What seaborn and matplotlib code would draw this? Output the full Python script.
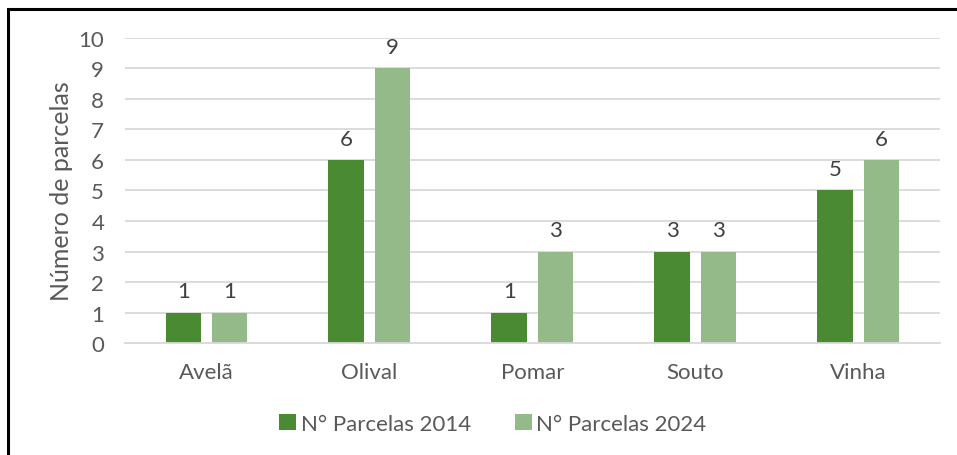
import pandas as pd
import matplotlib.pyplot as plt
import seaborn as sns
from matplotlib.patches import Rectangle

# data
categories = ['Avelã', 'Olival', 'Pomar', 'Souto', 'Vinha']
parcelas_2014 = [1, 6, 1, 3, 5]
parcelas_2024 = [1, 9, 3, 3, 6]
series_names = ['N° Parcelas 2014', 'N° Parcelas 2024']
y_ticks = list(range(0, 11))

df = pd.DataFrame({
    'cultura': categories * 2,
    'serie': [series_names[0]] * len(categories) + [series_names[1]] * len(categories),
    'valor': parcelas_2014 + parcelas_2024,
})

sns.set_theme(style='white')
plt.rcParams['font.family'] = ['Lato', 'DejaVu Sans']

text_grey = '#595959'
grid_grey = '#d9d9d9'
palette = {series_names[0]: '#4a8a32', series_names[1]: '#94ba8a'}

fig = plt.figure(figsize=(9.57, 4.56), dpi=100)
ax = fig.add_axes([0.1306, 0.2456, 0.8516, 0.6689])

sns.barplot(data=df, x='cultura', y='valor', hue='serie', palette=palette,
            width=0.565, gap=0.22, saturation=1, linewidth=0, ax=ax, legend=True)

ax.set_ylim(0, 10)
ax.set_yticks(y_ticks)
ax.set_xlim(-0.5, len(categories) - 0.5)
ax.grid(axis='y', color=grid_grey, linewidth=1.3)
ax.set_axisbelow(True)
for side in ['left', 'right', 'top']:
    ax.spines[side].set_visible(False)
ax.spines['bottom'].set_color(grid_grey)
ax.spines['bottom'].set_linewidth(1.3)
ax.tick_params(axis='both', length=0, labelsize=16, colors=text_grey)
ax.tick_params(axis='y', pad=15)
ax.tick_params(axis='x', pad=14)
ax.set_xlabel('')
ax.set_ylabel('Número de parcelas', fontsize=18, color=text_grey, labelpad=4)

for cont in ax.containers:
    ax.bar_label(cont, fmt='%d', padding=8, fontsize=16, color='#404040')

handles, labels = ax.get_legend_handles_labels()
ax.legend_.remove()
fig.legend(handles, labels, loc='center', bbox_to_anchor=(0.515, 0.068), ncol=2,
           frameon=False, fontsize=16, labelcolor=text_grey, handlelength=0.75,
           handleheight=0.75, handletextpad=0.2, columnspacing=2.0)

# chart frame (cut off on the right and bottom in the reference)
fig.patches.append(Rectangle((8 / 957, -0.1), 1.2, 1 - 10 / 456 + 0.1,
                             transform=fig.transFigure, fill=False,
                             edgecolor='black', linewidth=2.2))

fig.savefig('out.png', dpi=100)
